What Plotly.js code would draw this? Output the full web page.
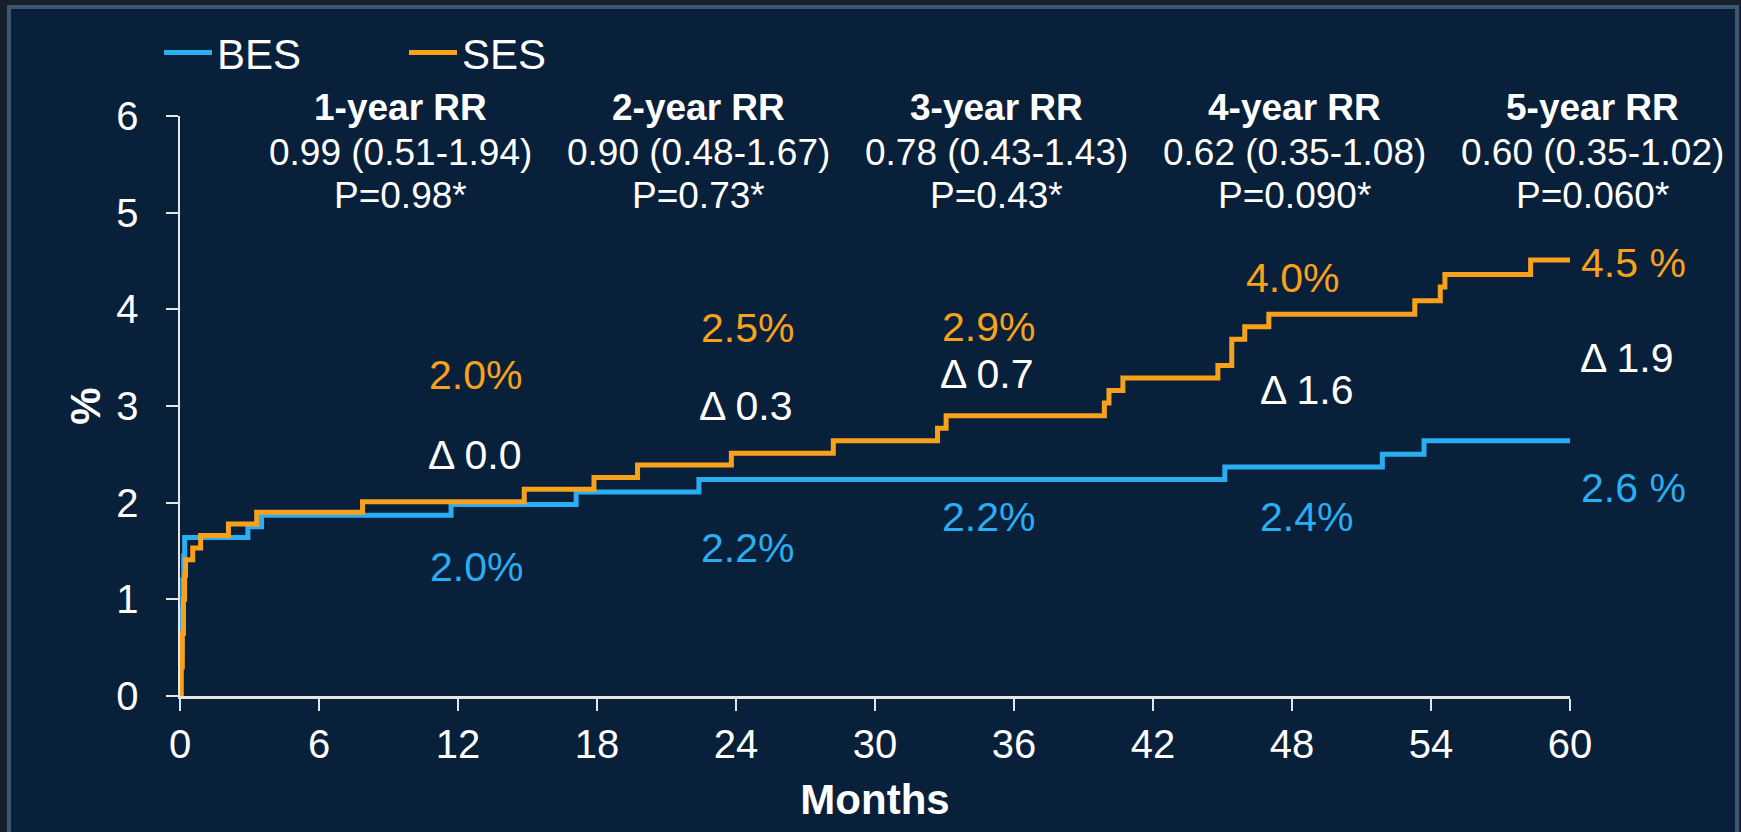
<!DOCTYPE html>
<html>
<head>
<meta charset="utf-8">
<script src="https://cdn.plot.ly/plotly-3.0.1.min.js"></script>
<style>
  html, body { margin: 0; padding: 0; background: #161f2b; overflow: hidden; }
  #wrap { position: relative; width: 1741px; height: 832px; background: #161f2b; }
  #frame { position: absolute; left: 7px; top: 5px; width: 1732px; height: 860px;
           box-sizing: border-box; border: 4px solid #3f5672; background: #08203a; }
  #chart { position: absolute; left: 0; top: 0; width: 1741px; height: 832px; }
</style>
</head>
<body>
<div id="wrap"><div id="frame"></div><div id="chart"></div></div>
<script>
// ---- data ----
const monthsBES = [0, 0.04, 0.08, 0.12, 0.16, 0.2, 2.93, 3.52, 11.7, 17.1, 22.4, 45.1, 51.9, 53.7, 60];
const rateBES   = [0, 0.5, 0.9, 1.2, 1.45, 1.64, 1.75, 1.87, 1.98, 2.11, 2.24, 2.37, 2.50, 2.64, 2.64];

const monthsSES = [0, 0.05, 0.1, 0.15, 0.2, 0.24, 0.55, 0.89, 2.09, 3.31, 7.88, 14.86, 17.87, 19.75, 23.8,
                   28.2, 32.7, 33.07, 39.9, 40.1, 40.7, 44.8, 45.4, 45.96, 47.0, 53.3, 54.4, 54.6, 58.3, 60];
const rateSES   = [0, 0.3, 0.65, 1.0, 1.25, 1.41, 1.53, 1.66, 1.78, 1.90, 2.01, 2.14, 2.26, 2.39, 2.51,
                   2.64, 2.77, 2.90, 3.03, 3.16, 3.29, 3.42, 3.69, 3.82, 3.95, 4.09, 4.23, 4.36, 4.51, 4.51];

const xTicks = [0, 6, 12, 18, 24, 30, 36, 42, 48, 54, 60];
const yTicks = [0, 1, 2, 3, 4, 5, 6];

const rrTitles = ['1-year RR', '2-year RR', '3-year RR', '4-year RR', '5-year RR'];
const rrValues = ['0.99 (0.51-1.94)', '0.90 (0.48-1.67)', '0.78 (0.43-1.43)', '0.62 (0.35-1.08)', '0.60 (0.35-1.02)'];
const rrP      = ['P=0.98*', 'P=0.73*', 'P=0.43*', 'P=0.090*', 'P=0.060*'];

const sesLabels   = ['2.0%', '2.5%', '2.9%', '4.0%', '4.5 %'];
const besLabels   = ['2.0%', '2.2%', '2.2%', '2.4%', '2.6 %'];
const deltaLabels = ['Δ 0.0', 'Δ 0.3', 'Δ 0.7', 'Δ 1.6', 'Δ 1.9'];

// ---- styling / placement ----
const BLUE = '#2badf2', ORANGE = '#f8a11c', WHITE = '#ffffff', AXIS = '#e6e6e6';
const FONT = 'Liberation Sans, Arial, sans-serif';
const X_MAX = 60, Y_MAX = 6;

// label anchors given in axis units, converted to paper fractions (some lie outside the axes)
const headerX = [9.5, 22.37, 35.24, 48.1, 60.95];
const headerRowY = [6.085, 5.625, 5.175];

const sesPos   = [[12.74, 3.32], [24.48, 3.81], [34.88, 3.82], [48.0, 4.32], [62.75, 4.48]];
const deltaPos = [[12.73, 2.49], [24.45, 3.00], [34.83, 3.33], [48.66, 3.17], [62.45, 3.50]];
const besPos   = [[12.79, 1.33], [24.48, 1.53], [34.88, 1.85], [48.64, 1.85], [62.75, 2.15]];

const traces = [
  { x: monthsBES, y: rateBES, name: 'BES', type: 'scatter', mode: 'lines',
    line: { color: BLUE, width: 5, shape: 'hv' }, cliponaxis: false },
  { x: monthsSES, y: rateSES, name: 'SES', type: 'scatter', mode: 'lines',
    line: { color: ORANGE, width: 5, shape: 'hv' }, cliponaxis: false }
];

const annotations = [];
function addText(text, x, y, size, color) {
  annotations.push({ text: text, x: x / X_MAX, y: y / Y_MAX, xref: 'paper', yref: 'paper', showarrow: false,
    xanchor: 'center', yanchor: 'middle', font: { family: FONT, size: size, color: color } });
}
rrTitles.forEach((t, i) => {
  addText('<b>' + t + '</b>', headerX[i], headerRowY[0], 37, WHITE);
  addText(rrValues[i], headerX[i], headerRowY[1], 37, WHITE);
  addText(rrP[i], headerX[i], headerRowY[2], 37, WHITE);
});
sesLabels.forEach((t, i) => addText(t, sesPos[i][0], sesPos[i][1], 41, ORANGE));
deltaLabels.forEach((t, i) => addText(t, deltaPos[i][0], deltaPos[i][1], 41, WHITE));
besLabels.forEach((t, i) => addText(t, besPos[i][0], besPos[i][1], 41, BLUE));

const axisCommon = {
  showline: true, linecolor: AXIS, linewidth: 2.5, showgrid: false, zeroline: false,
  ticks: 'outside', ticklen: 12, tickwidth: 2, tickcolor: AXIS,
  tickfont: { family: FONT, size: 40, color: WHITE }, fixedrange: true
};

const layout = {
  width: 1741, height: 832,
  margin: { l: 180, r: 171, t: 116, b: 136, pad: 0 },
  paper_bgcolor: 'rgba(0,0,0,0)', plot_bgcolor: 'rgba(0,0,0,0)',
  font: { family: FONT, color: WHITE },
  showlegend: true,
  legend: { orientation: 'h', x: -0.0151, xanchor: 'left', y: 1.109, yanchor: 'middle',
            font: { family: FONT, size: 42, color: WHITE }, bgcolor: 'rgba(0,0,0,0)',
            itemwidth: 48, entrywidth: 182, entrywidthmode: 'pixels' },
  xaxis: Object.assign({}, axisCommon, {
    range: [0, X_MAX], tickvals: xTicks, ticktext: xTicks.map(String), ticklabelstandoff: -1,
    title: { text: '<b>Months</b>', font: { family: FONT, size: 42, color: WHITE }, standoff: 20 }
  }),
  yaxis: Object.assign({}, axisCommon, {
    range: [0, Y_MAX], tickvals: yTicks, ticktext: yTicks.map(String), ticklabelstandoff: 19,
    title: { text: '<b>%</b>', font: { family: FONT, size: 42, color: WHITE }, standoff: 3 }
  }),
  annotations: annotations
};

Plotly.newPlot('chart', traces, layout, { displayModeBar: false, staticPlot: true });
</script>
</body>
</html>
